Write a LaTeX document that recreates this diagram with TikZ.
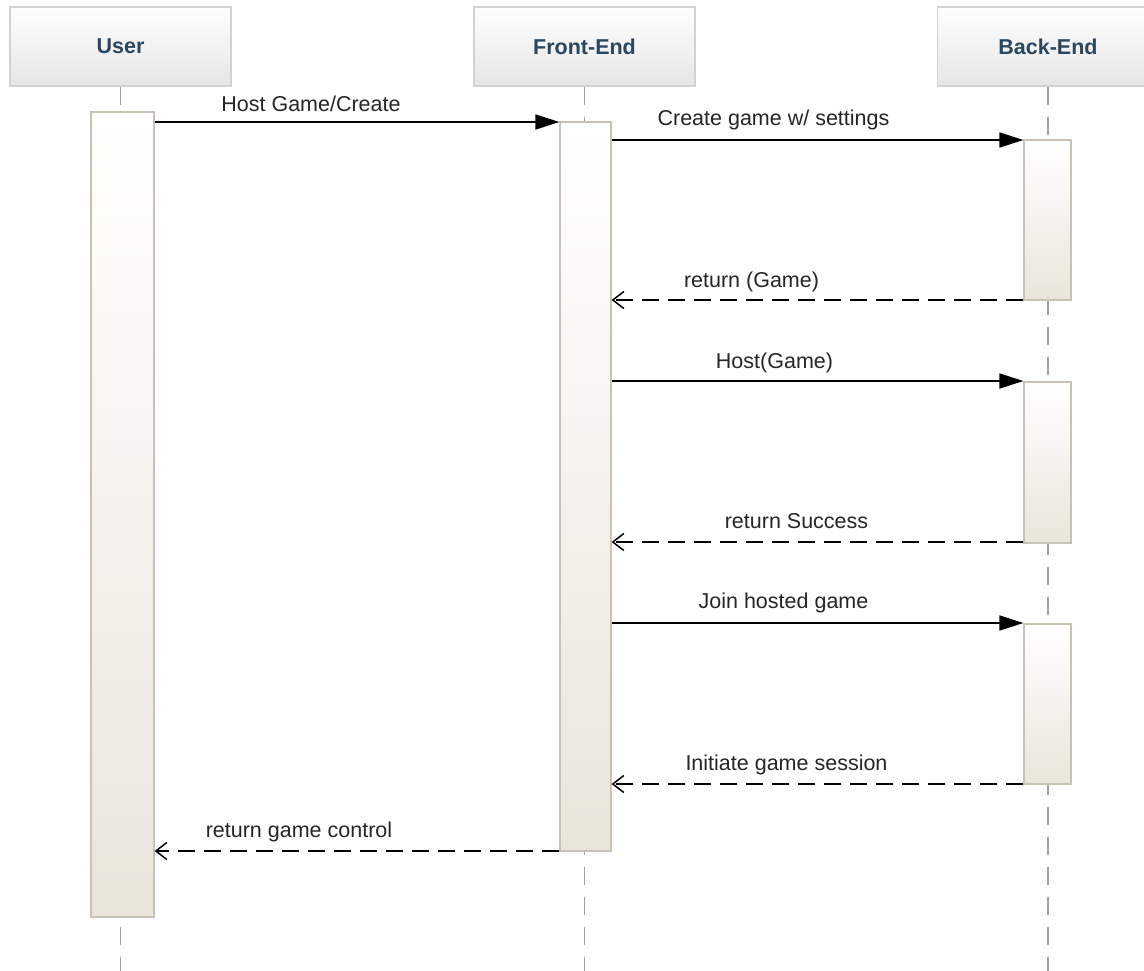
\documentclass[tikz,border=0pt]{standalone}
\usepackage{fontspec}
\setmainfont{Liberation Sans}
\usetikzlibrary{arrows.meta}
\definecolor{headtxt}{HTML}{2B4760}
\definecolor{headborder}{HTML}{D2D2D2}
\definecolor{headbot}{HTML}{E6E6E6}
\definecolor{barborder}{HTML}{C8C1B6}
\definecolor{barbot}{HTML}{EAE5DB}
\definecolor{lifegray}{HTML}{A0A0A0}
\tikzset{
  header/.style={draw=headborder, line width=1.2pt, top color=white!97!headbot, bottom color=headbot,
    minimum width=221pt, minimum height=79pt, inner sep=0pt,
    font=\fontsize{21.5}{25}\selectfont\bfseries, text=headtxt},
  actbar/.style={draw=barborder, line width=1.2pt, top color=white, bottom color=barbot, inner sep=0pt},
  lifeline/.style={draw=lifegray, line width=1.5pt, dash pattern=on 18pt off 12pt},
  syncmsg/.style={draw=black, line width=1.5pt, -{Triangle[length=24pt,width=15pt]}},
  retmsg/.style={draw=black, line width=1.5pt, dash pattern=on 17pt off 9pt, -{Straight Barb[length=11pt,width=17pt,line width=1.5pt]}},
  msglabel/.style={anchor=base, inner sep=0pt, font=\fontsize{21.5}{25}\selectfont, text=black!85},
}
\begin{document}
\begin{tikzpicture}[x=1pt,y=-1pt]
\useasboundingbox (0,0) rectangle (1144,970);
\clip (0,0) rectangle (1144,970);
\fill[white] (0,0) rectangle (1144,970);
% headers
\node[header] (user) at (120.5,46.5) {User};
\node[header] (fe) at (584.5,46.5) {Front-End};
\node[header] (be) at (1048,46.5) {Back-End};
% lifeline ends
\coordinate (userend) at (121,975);
\coordinate (feend) at (585,975);
\coordinate (beend) at (1048,975);
\draw[lifeline] (user.south) -- (user.south |- userend);
\draw[lifeline] (fe.south) -- (fe.south |- feend);
\draw[lifeline] (be.south) -- (be.south |- beend);
% activation bars
\node[actbar, minimum width=63pt, minimum height=805pt] (ua) at (122.5,514.5) {};
\node[actbar, minimum width=51pt, minimum height=729pt] (fa) at (585.5,486.5) {};
\node[actbar, minimum width=47pt, minimum height=160pt] (b1) at (1047.5,220) {};
\node[actbar, minimum width=47pt, minimum height=161pt] (b2) at (1047.5,462.5) {};
\node[actbar, minimum width=47pt, minimum height=160pt] (b3) at (1047.5,704) {};
% message endpoints
\coordinate (m1) at (0,122);
\coordinate (m2) at (0,140);
\coordinate (m3) at (0,300);
\coordinate (m4) at (0,381);
\coordinate (m5) at (0,542);
\coordinate (m6) at (0,623);
\coordinate (m7) at (0,784);
\coordinate (m8) at (0,851);
% messages
\draw[syncmsg] (ua.east |- m1) -- (fa.west |- m1);
\draw[syncmsg] (fa.east |- m2) -- (b1.west |- m2);
\draw[retmsg] (b1.west |- m3) -- (fa.east |- m3);
\draw[syncmsg] (fa.east |- m4) -- (b2.west |- m4);
\draw[retmsg] (b2.west |- m5) -- (fa.east |- m5);
\draw[syncmsg] (fa.east |- m6) -- (b3.west |- m6);
\draw[retmsg] (b3.west |- m7) -- (fa.east |- m7);
\draw[retmsg] (fa.west |- m8) -- (ua.east |- m8);
% labels
\node[msglabel] (l1) at (311,111) {Host Game/Create};
\node[msglabel] (l2) at (773.5,125) {Create game w/ settings};
\node[msglabel] (l3) at (751.5,287) {return (Game)};
\node[msglabel] (l4) at (774.5,368) {Host(Game)};
\node[msglabel] (l5) at (796.5,528) {return Success};
\node[msglabel] (l6) at (783.5,608) {Join hosted game};
\node[msglabel] (l7) at (786.5,770) {Initiate game session};
\node[msglabel] (l8) at (299,837) {return game control};
\end{tikzpicture}
\end{document}
